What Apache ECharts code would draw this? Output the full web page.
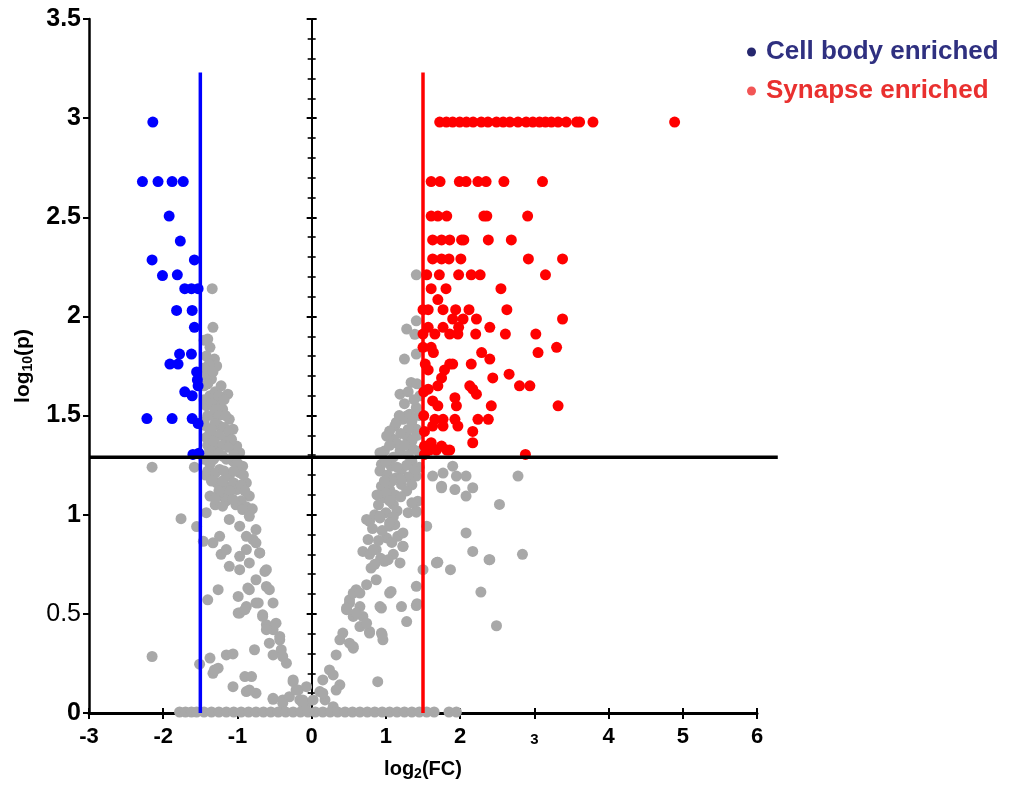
<!DOCTYPE html>
<html>
<head>
<meta charset="utf-8">
<script src="https://cdn.jsdelivr.net/npm/echarts@6/dist/echarts.min.js"></script>
<style>html,body{margin:0;padding:0;background:#fff;}#chart{width:1012px;height:787px;}</style>
</head>
<body>
<div id="chart"></div>
<script>
// ---- Data: [log2(FC), log10(p)] ----
var bluePoints = [
  [-2.14,2.98],[-2.28,2.68],[-2.07,2.68],[-1.88,2.68],[-1.73,2.68],[-1.92,2.506],[-1.77,2.38],
  [-2.15,2.285],[-1.58,2.285],[-2.01,2.206],[-1.81,2.21],[-1.71,2.14],[-1.62,2.14],[-1.53,2.14],
  [-1.82,2.03],[-1.61,2.03],[-1.58,1.945],[-1.78,1.81],[-1.62,1.81],[-1.91,1.76],[-1.80,1.76],
  [-1.55,1.72],[-1.54,1.68],[-1.71,1.62],[-1.61,1.60],[-1.53,1.65],[-2.22,1.485],[-1.88,1.485],
  [-1.61,1.485],[-1.53,1.46],[-1.60,1.304],[-1.52,1.31]
];
var redPoints = [
  [1.725,2.98],[1.815,2.98],[1.9,2.98],[1.995,2.98],[2.085,2.98],[2.175,2.98],[2.285,2.98],[2.375,2.98],
  [2.49,2.98],[2.58,2.98],[2.67,2.98],[2.78,2.98],[2.89,2.98],[2.98,2.98],[3.07,2.98],[3.15,2.98],
  [3.23,2.98],[3.32,2.98],[3.43,2.98],[3.57,2.98],[3.61,2.98],[3.79,2.98],[4.89,2.98],
  [1.61,2.68],[1.73,2.68],[1.99,2.68],[2.08,2.68],[2.24,2.68],[2.35,2.68],[2.59,2.68],[3.11,2.68],
  [1.61,2.506],[1.70,2.506],[1.82,2.506],[2.32,2.506],[2.36,2.506],[2.91,2.506],
  [1.63,2.386],[1.75,2.386],[1.86,2.386],[2.02,2.386],[2.05,2.386],[2.38,2.386],[2.69,2.386],
  [1.63,2.29],[1.75,2.29],[1.85,2.29],[2.01,2.29],[2.92,2.29],[3.38,2.29],
  [1.55,2.21],[1.72,2.21],[1.98,2.21],[2.15,2.21],[2.27,2.21],[3.15,2.21],
  [1.61,2.14],[1.81,2.14],[2.55,2.14],[1.70,2.085],
  [1.50,2.034],[1.57,2.034],[1.77,2.034],[1.94,2.034],[2.12,2.034],[2.63,2.034],
  [1.90,1.987],[2.04,1.987],[2.22,1.987],[3.38,1.987],
  [1.57,1.945],[1.77,1.945],[1.98,1.945],[2.40,1.945],
  [1.50,1.911],[1.66,1.911],[1.86,1.911],[1.97,1.911],[2.21,1.911],[2.61,1.911],[3.02,1.911],
  [1.50,1.844],[1.61,1.844],[3.30,1.844],[1.64,1.818],[2.29,1.818],[3.05,1.818],[2.40,1.785],
  [1.86,1.76],[1.90,1.76],[2.15,1.76],[1.53,1.76],[1.57,1.73],[1.79,1.73],[2.66,1.709],
  [1.75,1.69],[2.44,1.69],[1.70,1.65],[2.13,1.65],[2.80,1.65],[2.94,1.65],[1.57,1.633],[2.17,1.633],
  [2.22,1.608],[1.51,1.62],[1.93,1.59],[1.63,1.574],[1.70,1.549],[1.95,1.549],[2.42,1.549],[3.32,1.549],
  [1.51,1.50],[1.66,1.481],[1.77,1.481],[1.93,1.481],[2.24,1.481],[2.38,1.481],
  [1.63,1.447],[1.77,1.447],[1.97,1.447],[1.52,1.42],[2.17,1.42],[1.61,1.363],[2.17,1.363],
  [1.52,1.346],[1.75,1.346],[1.59,1.326],[1.68,1.326],[1.82,1.326],[1.86,1.326],[1.52,1.304],[2.88,1.304]
];
var grayPoints = [
  [-1.34,2.14],[-1.33,1.945],[-1.40,1.886],[-1.37,1.844],[-1.31,1.785],[-1.28,1.75],[-1.42,1.70],[-1.35,1.684],
  [-1.22,1.65],[-1.13,1.608],[-1.37,1.60],[-1.28,1.566],[-1.20,1.532],[-1.11,1.481],[-1.33,1.498],[-1.24,1.447],
  [-1.06,1.431],[-1.37,1.414],[-1.15,1.38],[-1.01,1.346],[-0.97,1.313],[-1.28,1.346],[-1.20,1.296],[-1.06,1.27],
  [-0.93,1.245],[-1.37,1.254],[-1.24,1.228],[-1.11,1.195],[-0.97,1.212],[-0.88,1.161],[-1.28,1.161],[-1.15,1.144],
  [-1.01,1.127],[-0.84,1.094],[-1.37,1.094],[-1.20,1.094],[-2.15,1.24],[-1.58,1.24],
  [-1.45,1.65],[-1.42,1.55],[-1.44,1.45],[-1.40,1.35],[-1.45,1.28],[-1.43,1.2],[-1.30,1.05],
  [-1.45,1.88],[-1.42,1.80],[-1.38,1.76],[-1.45,1.74],[-1.33,1.72],[-1.40,1.66],[-1.30,1.62],[-1.25,1.60],
  [-1.45,1.58],[-1.35,1.56],[-1.18,1.58],[-1.30,1.53],[-1.40,1.50],[-1.25,1.50],[-1.16,1.50],[-1.45,1.47],
  [-1.30,1.46],[-1.18,1.44],[-1.12,1.42],[-1.35,1.43],[-1.25,1.40],[-1.42,1.39],[-1.08,1.38],[-1.32,1.37],
  [-1.20,1.35],[-1.12,1.34],[-1.35,1.32],[-1.05,1.30],[-1.25,1.31],[-1.42,1.30],[-1.15,1.28],[-1.32,1.28],
  [-1.00,1.26],[-1.40,1.22],[-1.30,1.21],[-1.18,1.22],[-1.05,1.22],[-0.92,1.20],[-1.35,1.17],[-1.20,1.17],
  [-1.05,1.16],[-0.95,1.15],[-1.25,1.12],[-1.10,1.12],[-0.90,1.12],[-0.95,1.07],[-1.30,1.08],[-1.15,1.07],
  [-0.88,1.04],[-1.02,1.05],[-0.80,1.03],
  [-1.76,0.98],[-1.55,0.94],[-1.42,1.01],[-1.46,0.866],[-1.33,0.858],[-1.22,0.80],[-1.11,0.74],[-0.97,0.723],
  [-0.84,0.757],[-0.88,0.824],[-0.79,0.875],[-0.70,0.807],[-0.63,0.714],[-0.75,0.672],[-0.61,0.638],[-0.86,0.63],
  [-1.26,0.622],[-1.40,0.571],[-0.99,0.588],[-0.88,0.537],[-0.99,0.504],[-0.72,0.555],[-0.66,0.495],[-0.61,0.445],
  [-0.52,0.42],[-0.57,0.352],[-0.43,0.369],[-0.41,0.319],[-0.77,0.319],[-0.52,0.293],[-0.34,0.251],[-1.15,0.293],
  [-1.06,0.298],[-1.37,0.277],[-1.51,0.246],[-1.26,0.226],[-1.33,0.20],[-0.90,0.184],[-0.81,0.184],[-1.06,0.133],
  [-0.88,0.108],[-0.75,0.10],[-0.52,0.069],[-0.39,0.066],[-0.25,0.158],[-0.18,0.116],[-0.16,0.066],[-0.07,0.049],
  [-2.15,0.285],
  [-1.20,1.043],[-1.06,1.077],[-0.93,1.026],[-0.84,0.992],[-1.11,0.976],[-0.97,0.942],[-0.75,0.925],[-0.88,0.891],
  [-0.75,0.858],[-1.24,0.891],[-1.15,0.824],[-0.97,0.79],[-0.70,0.807],[-0.61,0.723],[-0.84,0.622],[-0.57,0.622],
  [-0.52,0.555],[-0.75,0.555],[-0.66,0.487],[-0.48,0.453],[-0.97,0.504],[-0.90,0.521],[-0.61,0.42],[-0.43,0.386],
  [-0.39,0.285],[-0.30,0.082],[-0.21,0.116],[-0.25,0.167],[-0.12,0.066],[-0.39,0.049],[-0.52,0.074],[-0.84,0.116],
  [-1.31,0.217],
  [1.34,1.667],[1.19,1.608],[1.46,1.60],[1.41,1.54],[1.32,1.507],[1.23,1.481],[1.12,1.447],[1.05,1.422],
  [1.41,1.431],[1.10,1.38],[1.28,1.397],[0.98,1.321],[1.19,1.321],[1.37,1.33],[0.94,1.254],[0.92,1.22],
  [1.07,1.245],[1.21,1.228],[1.14,1.187],[0.94,1.144],[1.05,1.127],[1.21,1.153],[1.41,1.195],[1.63,1.195],
  [1.75,1.144],[0.98,1.085],[1.10,1.052],[1.43,1.068],[1.41,1.018],[0.78,0.967],[0.92,0.984],[1.05,0.942],
  [1.01,0.883],[1.16,0.891],[0.76,0.875],[0.69,0.815],[0.87,0.824],[1.23,0.841],[0.98,0.765],[1.19,0.757],
  [1.70,0.76],[1.77,1.21],[1.90,1.245],[1.95,1.195],[2.08,1.195],[2.78,1.195],[1.75,1.136],[1.93,1.127],
  [2.17,1.136],[2.08,1.094],[2.53,1.052],[1.41,2.21],[1.28,1.936],[1.41,1.978],[1.39,1.91],[1.25,1.785],
  [1.41,1.81],[0.92,1.313],[1.01,1.397],[1.14,1.465],[1.28,1.498],
  [1.30,1.62],[1.42,1.66],[1.38,1.58],[1.25,1.56],[1.45,1.50],[1.35,1.47],[1.18,1.50],[1.42,1.40],
  [1.30,1.43],[1.20,1.41],[1.35,1.37],[1.15,1.36],[1.05,1.35],[1.25,1.35],[1.44,1.32],[1.30,1.30],
  [1.10,1.29],[1.00,1.27],[1.35,1.27],[1.45,1.24],[1.28,1.25],[1.15,1.24],[1.38,1.22],[1.02,1.20],
  [1.30,1.19],[1.20,1.18],[1.08,1.17],[0.98,1.17],[1.35,1.15],[1.28,1.12],[1.12,1.10],[1.00,1.11],
  [0.88,1.10],[1.20,1.09],[1.35,1.06],[1.05,1.07],[0.90,1.05],[1.15,1.02],[1.30,1.01],[0.85,1.00],
  [1.00,1.01],[1.10,0.99],[0.82,0.93],[0.95,0.92],[1.12,0.95],[0.90,0.87],[1.08,0.86],[0.78,0.80],
  [0.93,0.78],[1.10,0.80],[0.85,0.75],
  [2.08,0.908],[2.17,0.815],[2.39,0.773],[2.84,0.80],[1.69,0.76],[1.87,0.723],[2.28,0.61],[2.49,0.44],
  [0.89,0.158],[1.50,0.723],[1.41,0.639],[1.42,0.551],[1.55,0.942],[1.41,1.013],[1.23,0.908],[1.23,0.84],
  [1.21,0.537],[0.92,0.537],[1.28,0.461],[0.94,0.403],[0.96,0.369],[0.78,0.403],[0.74,0.976],[0.92,0.992],
  [1.05,0.959],[0.83,0.824],[1.03,0.773],[0.80,0.731],[0.87,0.672],[0.60,0.622],[0.74,0.647],[1.05,0.605],
  [0.51,0.571],[0.47,0.521],[0.65,0.537],[0.56,0.487],[0.69,0.487],[0.65,0.436],[0.78,0.411],[0.42,0.403],
  [0.38,0.369],[0.51,0.352],[0.56,0.327],[0.33,0.293],[0.24,0.217],[0.29,0.192],[0.38,0.142],[0.33,0.116],
  [0.15,0.167],[0.11,0.108],[0.02,0.066],[-0.07,0.133],[-0.12,0.049],[0.18,0.066],[0.29,0.032],
  [0.60,0.504],[0.51,0.555],[0.74,0.453],[0.56,0.335],[0.15,0.10],[1.07,0.613],[0.94,0.529],[0.95,0.394],
  [1.41,0.542],[1.68,0.757],[0.56,0.605],[0.65,0.605],[0.47,0.529],[2.40,0.773],
  [-1.78,0.005],[-1.70,0.005],[-1.62,0.005],[-1.55,0.005],[-1.45,0.005],[-1.35,0.005],[-1.25,0.005],[-1.15,0.005],
  [-1.05,0.005],[-0.95,0.005],[-0.85,0.005],[-0.75,0.005],[-0.65,0.005],[-0.55,0.005],[-0.45,0.005],[-0.35,0.005],
  [-0.25,0.005],[-0.15,0.005],[-0.05,0.005],[0.05,0.005],[0.15,0.005],[0.25,0.005],[0.35,0.005],[0.45,0.005],
  [0.55,0.005],[0.65,0.005],[0.75,0.005],[0.85,0.005],[0.95,0.005],[1.05,0.005],[1.15,0.005],[1.25,0.005],
  [1.35,0.005],[1.45,0.005],[1.55,0.005],[1.65,0.005],[1.85,0.005],[1.95,0.005]
];
var fcCutoffLeft = -1.5;
var fcCutoffRight = 1.5;
var cutoffTop = 3.23;
var pCutoff = 1.29;
var pLineEnd = 6.28;
var xMin = -3, xMax = 6, xStep = 1;
var yMin = 0, yMax = 3.5, yStep = 0.5;
var seriesNames = ['Cell body enriched', 'Synapse enriched'];

var font = 'Liberation Sans, Arial, Helvetica, sans-serif';
var chart = echarts.init(document.getElementById('chart'));

// grid layout (pixels)
var gLeft = 89, gRight = 255, gTop = 19, gBottom = 74;
var plotW = 1012 - gLeft - gRight;
// second, invisible grid that shares the same scale but reaches to pLineEnd (for the p-cutoff line)
var g2Right = 1012 - gLeft - plotW * (pLineEnd - xMin) / (xMax - xMin);

function crossAxis(inside, showLine) {
  return {
    type: 'value', min: yMin, max: yMax, interval: yStep,
    axisLine: { show: showLine, onZero: true, onZeroAxisIndex: 0, lineStyle: { color: '#000', width: 2 } },
    axisTick: { show: true, inside: inside, length: 5, lineStyle: { color: '#000', width: 2 } },
    minorTick: { show: true, splitNumber: 5, length: 4, lineStyle: { color: '#000', width: 1.6 } },
    axisLabel: { show: false }, splitLine: { show: false }
  };
}

chart.setOption({
  animation: false,
  backgroundColor: '#fff',
  textStyle: { fontFamily: font },
  grid: [
    { left: gLeft, right: gRight, top: gTop, bottom: gBottom, containLabel: false },
    { left: gLeft, right: g2Right, top: gTop, bottom: gBottom, containLabel: false }
  ],
  legend: {
    orient: 'vertical', left: 742, top: 34, icon: 'circle',
    itemWidth: 9, itemHeight: 9, itemGap: 13,
    textStyle: { fontSize: 26, fontWeight: 'bold', fontFamily: font, padding: [0, 0, 0, 5] },
    data: [
      { name: seriesNames[0], itemStyle: { color: '#26276e' }, textStyle: { color: '#2f3080' } },
      { name: seriesNames[1], itemStyle: { color: '#f25555' }, textStyle: { color: '#e9302f' } }
    ]
  },
  xAxis: [
    {
      type: 'value', min: xMin, max: xMax, interval: xStep, position: 'bottom',
      axisLine: { onZero: false, lineStyle: { color: '#000', width: 3 } },
      axisTick: { show: true, length: 6, lineStyle: { color: '#000', width: 2 } },
      splitLine: { show: false },
      axisLabel: {
        margin: 13, color: '#000',
        formatter: function (v) { return v === 3 ? '{s|3}' : '{b|' + v + '}'; },
        rich: {
          b: { fontSize: 22, fontWeight: 'bold', color: '#000', fontFamily: font },
          s: { fontSize: 15, fontWeight: 'bold', color: '#000', fontFamily: font, padding: [6, 0, 0, 0] }
        }
      },
      name: '{b|log}{s|2}{b|(FC)}', nameLocation: 'middle', nameGap: 44,
      nameTextStyle: {
        rich: {
          b: { fontSize: 20, fontWeight: 'bold', color: '#000', fontFamily: font, lineHeight: 24 },
          s: { fontSize: 14, fontWeight: 'bold', color: '#000', fontFamily: font, verticalAlign: 'bottom', lineHeight: 14 }
        }
      }
    },
    {
      type: 'value', min: xMin, max: xMax, interval: xStep, position: 'bottom',
      axisLine: { show: false, onZero: false },
      axisTick: { show: true, inside: true, length: 5, lineStyle: { color: '#000', width: 2 } },
      axisLabel: { show: false }, splitLine: { show: false }
    },
    {
      gridIndex: 1, type: 'value', min: xMin, max: pLineEnd, show: false,
      axisLine: { show: false }, axisTick: { show: false }, axisLabel: { show: false }, splitLine: { show: false }
    }
  ],
  yAxis: [
    {
      type: 'value', min: yMin, max: yMax, interval: yStep, position: 'left',
      axisLine: { show: true, onZero: false, lineStyle: { color: '#000', width: 2.5 } },
      axisTick: { show: true, length: 6, lineStyle: { color: '#000', width: 2 } },
      splitLine: { show: false },
      axisLabel: {
        margin: 8,
        formatter: function (v) { return v === 0.5 ? '{n|0.5}' : '{b|' + v + '}'; },
        rich: {
          b: { fontSize: 25, fontWeight: 'bold', color: '#000', fontFamily: font },
          n: { fontSize: 25, fontWeight: 'normal', color: '#000', fontFamily: font }
        }
      },
      name: '{b|log}{s|10}{b|(p)}', nameLocation: 'middle', nameRotate: 90, nameGap: 54,
      nameTextStyle: {
        rich: {
          b: { fontSize: 21, fontWeight: 'bold', color: '#000', fontFamily: font, lineHeight: 24 },
          s: { fontSize: 14, fontWeight: 'bold', color: '#000', fontFamily: font, verticalAlign: 'bottom', lineHeight: 14 }
        }
      }
    },
    crossAxis(false, true),
    crossAxis(true, false),
    {
      gridIndex: 1, type: 'value', min: yMin, max: yMax, show: false,
      axisLine: { show: false }, axisTick: { show: false }, axisLabel: { show: false }, splitLine: { show: false }
    }
  ],
  series: [
    { name: 'Not significant', type: 'scatter', data: grayPoints, symbolSize: 11,
      itemStyle: { color: '#a8a8a8', opacity: 1 }, z: 2 },
    { name: seriesNames[0], type: 'scatter', data: bluePoints, symbolSize: 11,
      itemStyle: { color: '#0000ff', opacity: 1 }, z: 3 },
    { name: seriesNames[1], type: 'scatter', data: redPoints, symbolSize: 11,
      itemStyle: { color: '#ff0000', opacity: 1 }, z: 3 },
    { name: 'cutL', type: 'line', data: [[fcCutoffLeft, yMin], [fcCutoffLeft, cutoffTop]], showSymbol: false, symbol: 'none',
      lineStyle: { color: '#0000ff', width: 3.5 }, z: 4, silent: true },
    { name: 'cutR', type: 'line', data: [[fcCutoffRight, yMin], [fcCutoffRight, cutoffTop]], showSymbol: false, symbol: 'none',
      lineStyle: { color: '#ff0000', width: 3.5 }, z: 4, silent: true },
    { name: 'pcut', type: 'line', xAxisIndex: 2, yAxisIndex: 3, data: [[xMin, pCutoff], [pLineEnd, pCutoff]],
      showSymbol: false, symbol: 'none', clip: false,
      lineStyle: { color: '#000', width: 3.5 }, z: 5, silent: true }
  ]
});
</script>
</body>
</html>
